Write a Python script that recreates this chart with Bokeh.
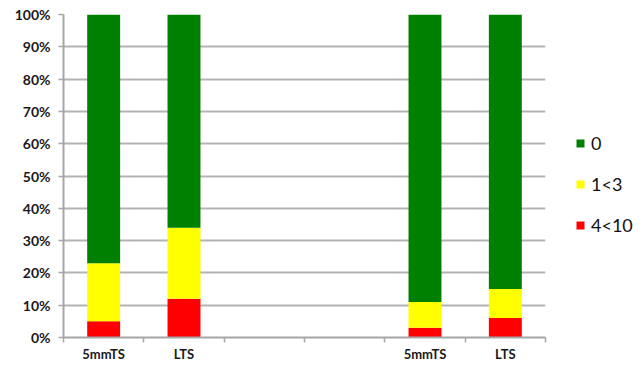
from bokeh.plotting import figure
from bokeh.models import (ColumnDataSource, FixedTicker, Legend, LegendItem,
                          PrintfTickFormatter, Range1d)
from bokeh.embed import file_html
from bokeh.resources import INLINE

# Six category slots; the two middle ones are empty spacers
slots = ["5mmTS", "LTS", "", "", "5mmTS", "LTS"]

# Share (%) of each band per slot, stacked bottom-up
share_4_10 = [5, 12, 0, 0, 3, 6]
share_1_3 = [18, 22, 0, 0, 8, 9]
share_0 = [77, 66, 0, 0, 89, 85]

band_names = ["4<10", "1<3", "0"]
band_colors = ["#ff0000", "#ffff00", "#008000"]
y_ticks = [0, 10, 20, 30, 40, 50, 60, 70, 80, 90, 100]

centers = [i + 0.5 for i in range(len(slots))]
src = ColumnDataSource(dict(x=centers, a=share_4_10, b=share_1_3, c=share_0))

p = figure(width=644, height=366, output_backend="svg", toolbar_location=None,
           x_range=Range1d(0, len(slots)), y_range=Range1d(0, 100),
           frame_width=482, frame_height=323,
           min_border_left=63, min_border_right=0, min_border_top=14,
           min_border_bottom=29)
p.outline_line_color = None
p.background_fill_color = "white"

renderers = p.vbar_stack(["a", "b", "c"], x="x", width=0.41, source=src,
                         color=band_colors, line_color=None)

# x axis: labels under bar slots, short tick marks at slot boundaries
label_pos = [c for c, s in zip(centers, slots) if s]
xt = FixedTicker(ticks=label_pos, minor_ticks=list(range(len(slots) + 1)))
p.xaxis.ticker = xt
p.xaxis.major_label_overrides = {c: s for c, s in zip(centers, slots) if s}
p.xaxis.major_tick_line_color = None
p.xaxis.major_tick_out = 5
p.xaxis.minor_tick_line_color = "#a6a6a6"
p.xaxis.minor_tick_line_width = 1.5
p.xaxis.minor_tick_out = 5
p.xaxis.minor_tick_in = 0
p.xaxis.major_label_standoff = 3
p.xaxis.axis_line_color = "#a6a6a6"
p.xaxis.axis_line_width = 2
p.xaxis.major_label_text_font = "Lato"
p.xaxis.major_label_text_font_style = "bold"
p.xaxis.major_label_text_font_size = "13px"
p.xaxis.major_label_text_color = "#1a1a1a"

# y axis: percentages
p.yaxis.ticker = FixedTicker(ticks=y_ticks, minor_ticks=[])
p.yaxis.formatter = PrintfTickFormatter(format="%d%%")
p.yaxis.axis_line_color = "#a6a6a6"
p.yaxis.axis_line_width = 2
p.yaxis.major_tick_line_color = "#a6a6a6"
p.yaxis.major_tick_line_width = 1.5
p.yaxis.major_tick_out = 5
p.yaxis.major_tick_in = 0
p.yaxis.major_label_standoff = 8
p.yaxis.major_label_text_font = "Lato"
p.yaxis.major_label_text_font_style = "bold"
p.yaxis.major_label_text_font_size = "14px"
p.yaxis.major_label_text_color = "#1a1a1a"

p.xgrid.grid_line_color = None
p.ygrid.ticker = FixedTicker(ticks=y_ticks)
p.ygrid.grid_line_color = "#b3b3b3"
p.ygrid.grid_line_width = 2

# Legend in the right-hand panel, top item first
items = [LegendItem(label=n, renderers=[r]) for n, r in zip(band_names, renderers)]
legend = Legend(items=list(reversed(items)), location=(30, 101),
                border_line_color=None, background_fill_alpha=0,
                glyph_width=10, glyph_height=10, label_height=20, spacing=19,
                label_standoff=6, padding=0, margin=0,
                label_text_font="Lato", label_text_font_size="18px",
                label_text_color="#111111")
p.add_layout(legend, "right")

open("out.html", "w").write(file_html(p, INLINE))
